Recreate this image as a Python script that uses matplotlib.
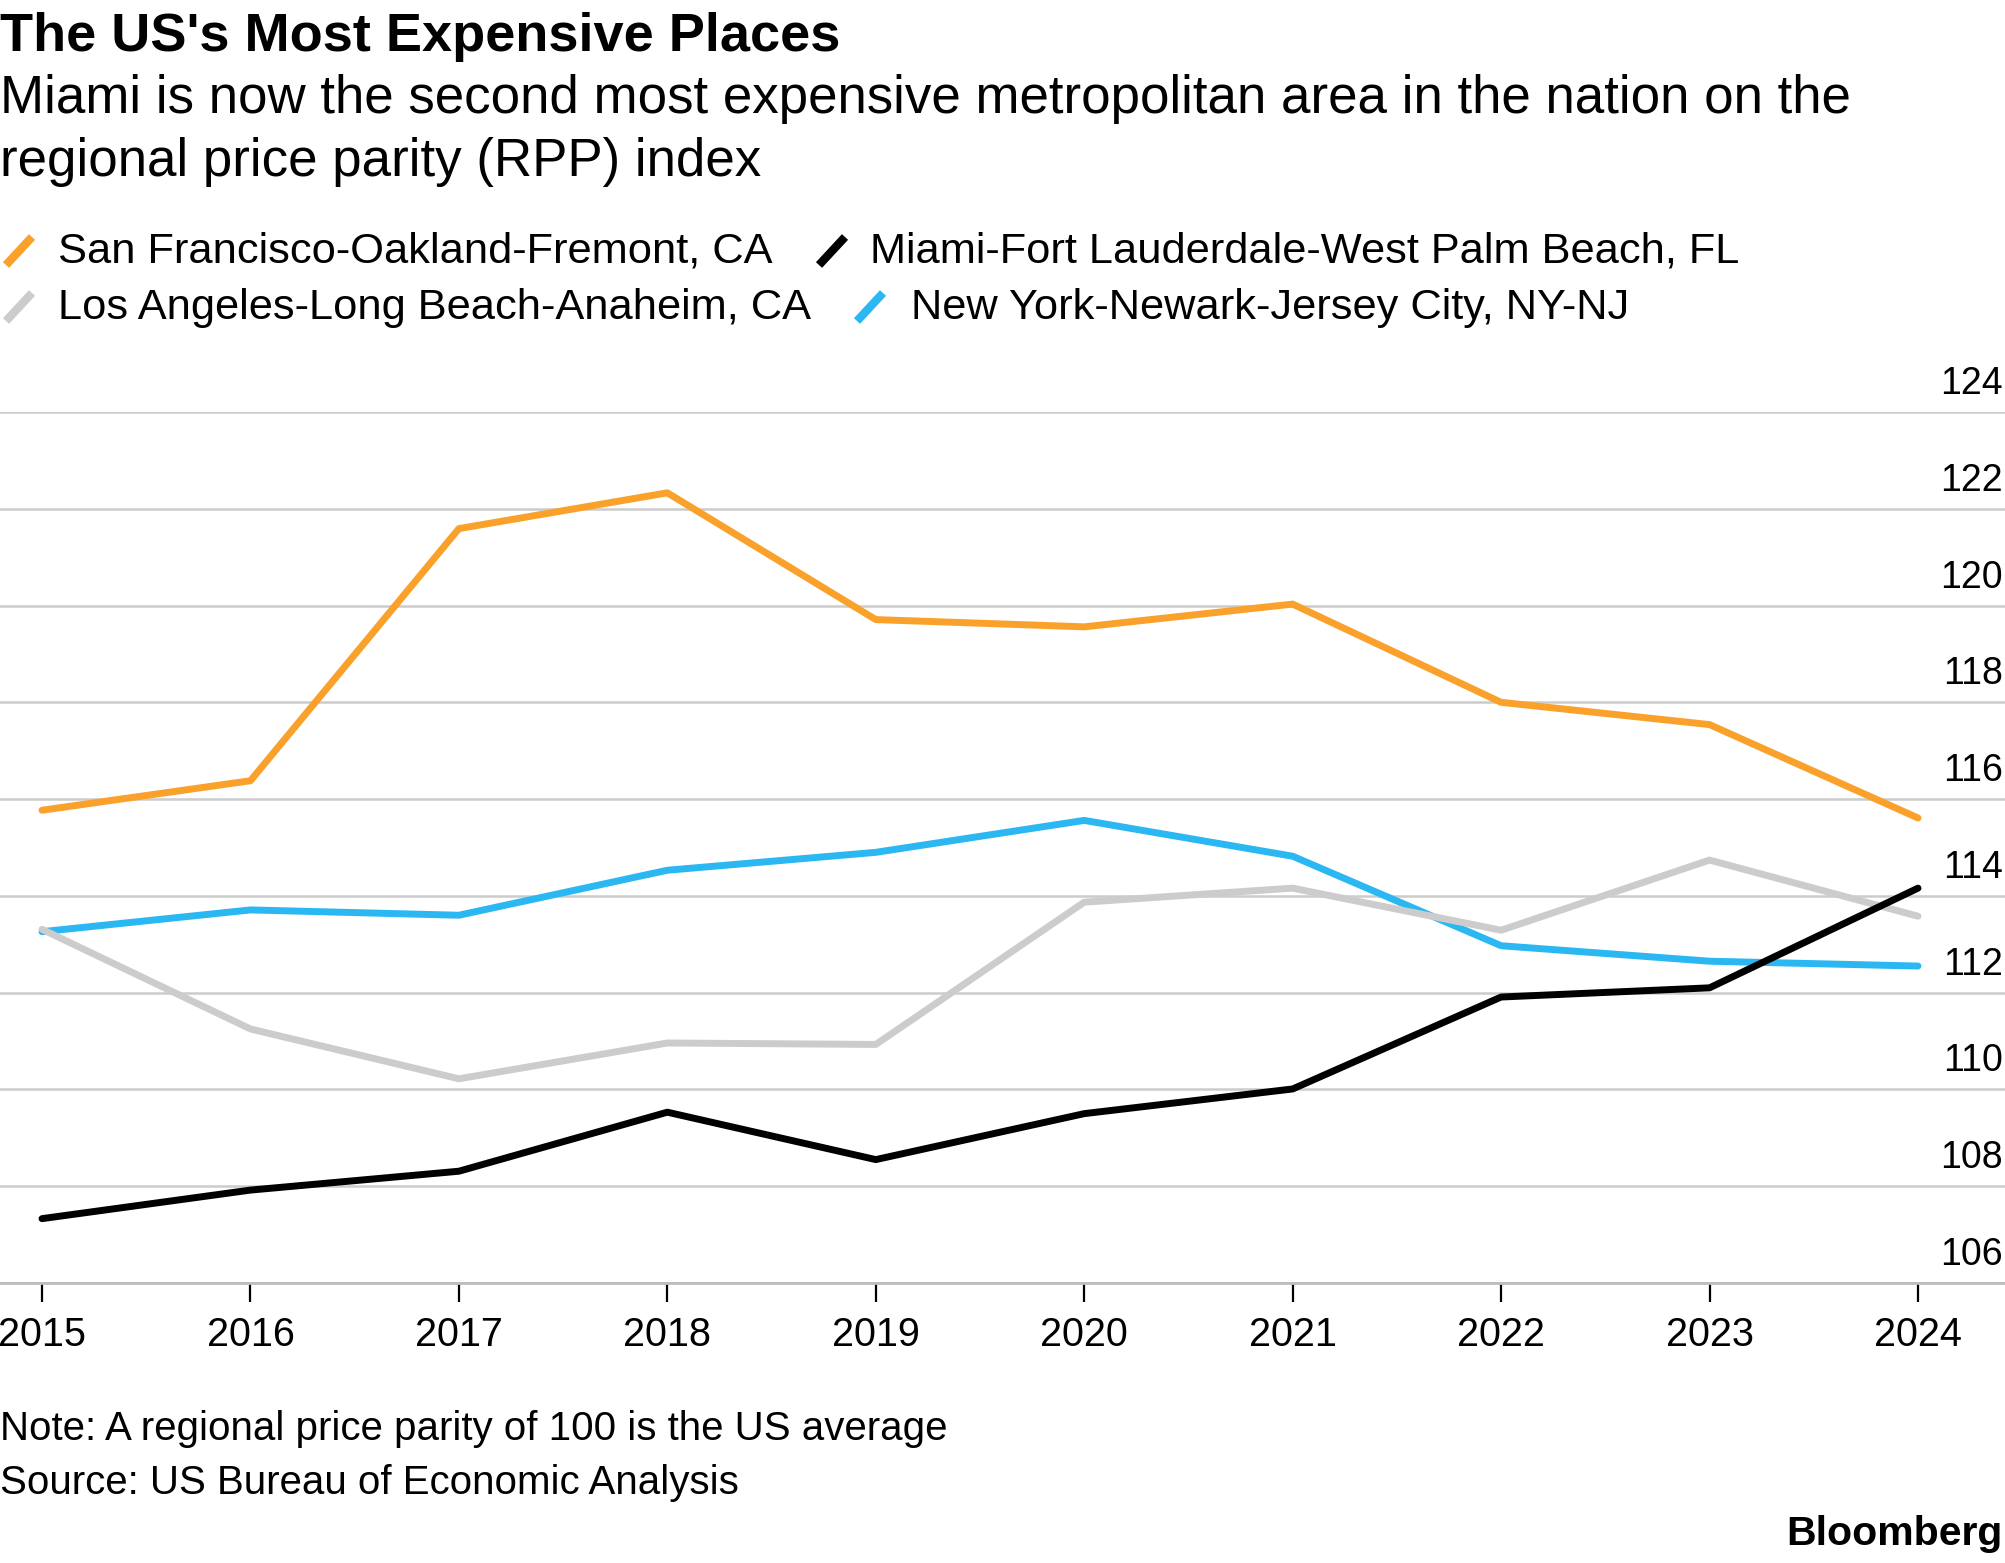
import matplotlib.pyplot as plt
from matplotlib.lines import Line2D

plt.rcParams['font.family'] = ['Liberation Sans', 'DejaVu Sans']

years = [2015, 2016, 2017, 2018, 2019, 2020, 2021, 2022, 2023, 2024]
sf = [115.77, 116.38, 121.59, 122.33, 119.71, 119.56, 120.03, 118.00, 117.54, 115.61]
miami = [107.33, 107.92, 108.31, 109.53, 108.55, 109.50, 110.01, 111.91, 112.10, 114.16]
la = [113.31, 111.25, 110.22, 110.96, 110.93, 113.87, 114.16, 113.29, 114.74, 113.58]
ny = [113.26, 113.71, 113.60, 114.53, 114.90, 115.56, 114.82, 112.97, 112.65, 112.55]
yticks = [106, 108, 110, 112, 114, 116, 118, 120, 122, 124]

names = ['San Francisco-Oakland-Fremont, CA', 'Miami-Fort Lauderdale-West Palm Beach, FL',
         'Los Angeles-Long Beach-Anaheim, CA', 'New York-Newark-Jersey City, NY-NJ']
colors = ['#f9a12b', '#000000', '#cccccc', '#2bb7f2']

W, H = 2006, 1563
fig = plt.figure(figsize=(W / 100, H / 100), dpi=100)


def fx(px):
    return px / W


def fy(py):
    return 1 - py / H


ax = fig.add_axes([0, fy(1283), 1, fy(412) - fy(1283)])

lw = 5
kw = dict(lw=lw, solid_capstyle='round', solid_joinstyle='round', clip_on=False, zorder=3)
ax.plot(years, ny, color=colors[3], **kw)
ax.plot(years, la, color=colors[2], **kw)
ax.plot(years, sf, color=colors[0], **kw)
ax.plot(years, miami, color=colors[1], **kw)

step = (1918 - 42) / 9
ax.set_xlim(2015 - 42 / step, 2024 + (W - 1918) / step)
ax.set_ylim(106, 124)

ax.set_yticks(yticks)
ax.yaxis.grid(True, color='#cccccc', lw=1.8)
ax.set_axisbelow(True)
ax.tick_params(axis='y', length=0, labelleft=False)
for v in yticks:
    ax.annotate(str(v), xy=(1, v), xycoords=('axes fraction', 'data'),
                xytext=(-2, 13), textcoords='offset points',
                ha='right', va='baseline', fontsize=27, annotation_clip=False)

ax.set_xticks(years)
ax.set_xticklabels([str(y) for y in years])
ax.tick_params(axis='x', direction='out', length=14, width=1.6, color='black',
               labelsize=28.5, pad=10)

for s in ['top', 'left', 'right']:
    ax.spines[s].set_visible(False)
ax.spines['bottom'].set_color('#bdbdbd')
ax.spines['bottom'].set_linewidth(2)

# title block
fig.text(fx(0), fy(51), "The US's Most Expensive Places", fontsize=39,
         fontweight='bold', va='baseline', ha='left')
fig.text(fx(0), fy(113), 'Miami is now the second most expensive metropolitan area in the nation on the',
         fontsize=38.1, va='baseline', ha='left')
fig.text(fx(0), fy(176), 'regional price parity (RPP) index',
         fontsize=38.1, va='baseline', ha='left')

# legend
legend_pos = [(6, 58, 263), (819, 870, 263), (6, 58, 319), (857, 911, 319)]
for name, c, (mx, tx, base) in zip(names, colors, legend_pos):
    fig.add_artist(Line2D([fx(mx), fx(mx + 26)], [fy(base + 2), fy(base - 26)],
                          color=c, lw=6, solid_capstyle='butt'))
    fig.text(fx(tx), fy(base), name, fontsize=31.2, va='baseline', ha='left')

# footer
fig.text(fx(0), fy(1440), 'Note: A regional price parity of 100 is the US average',
         fontsize=29, va='baseline', ha='left')
fig.text(fx(0), fy(1494), 'Source: US Bureau of Economic Analysis',
         fontsize=29, va='baseline', ha='left')
fig.text(fx(2003), fy(1545), 'Bloomberg', fontsize=29.5, fontweight='bold',
         va='baseline', ha='right')

fig.savefig('out.png', dpi=100)
